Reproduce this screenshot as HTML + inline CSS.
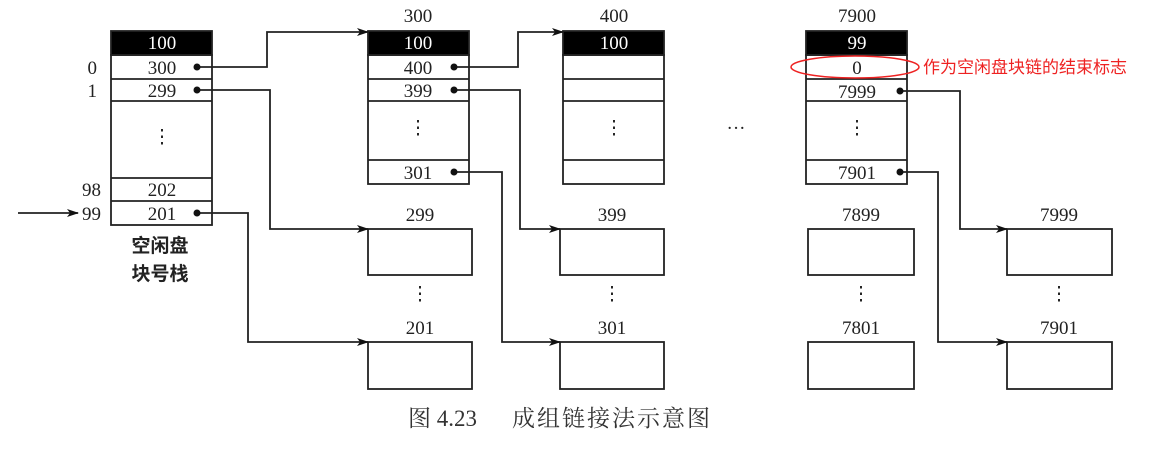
<!DOCTYPE html>
<html><head><meta charset="utf-8"><style>
html,body{margin:0;padding:0;background:#fff;}
svg{display:block;}
text{font-family:"Liberation Serif","Noto Serif CJK SC",serif;fill:#222;}
</style></head><body>
<svg width="1163" height="451" viewBox="0 0 1163 451" xmlns="http://www.w3.org/2000/svg">
<defs><marker id="a" markerWidth="12" markerHeight="8" refX="11" refY="4" orient="auto" markerUnits="userSpaceOnUse"><path d="M0,0 L12,4 L0,8 L3,4 Z" fill="#111"/></marker></defs>
<g stroke="#222" stroke-width="1.8" fill="none">
<rect x="111" y="31" width="101" height="24" fill="#000"/>
<rect x="111" y="55" width="101" height="170"/>
<line x1="111" y1="79" x2="212" y2="79"/><line x1="111" y1="101" x2="212" y2="101"/>
<line x1="111" y1="178" x2="212" y2="178"/><line x1="111" y1="201" x2="212" y2="201"/>
<rect x="368" y="31" width="101" height="24" fill="#000"/>
<rect x="368" y="55" width="101" height="129"/>
<line x1="368" y1="79" x2="469" y2="79"/><line x1="368" y1="101" x2="469" y2="101"/><line x1="368" y1="160" x2="469" y2="160"/>
<rect x="563" y="31" width="101" height="24" fill="#000"/>
<rect x="563" y="55" width="101" height="129"/>
<line x1="563" y1="79" x2="664" y2="79"/><line x1="563" y1="101" x2="664" y2="101"/><line x1="563" y1="160" x2="664" y2="160"/>
<rect x="806" y="31" width="101" height="24" fill="#000"/>
<rect x="806" y="55" width="101" height="129"/>
<line x1="806" y1="79" x2="907" y2="79"/><line x1="806" y1="101" x2="907" y2="101"/><line x1="806" y1="160" x2="907" y2="160"/>
<rect x="368" y="229" width="104" height="46"/><rect x="368" y="342" width="104" height="47"/>
<rect x="560" y="229" width="104" height="46"/><rect x="560" y="342" width="104" height="47"/>
<rect x="808" y="229" width="106" height="46"/><rect x="808" y="342" width="106" height="47"/>
<rect x="1007" y="229" width="105" height="46"/><rect x="1007" y="342" width="105" height="47"/>
<polyline points="197,67 267,67 267,32 368,32" marker-end="url(#a)"/>
<polyline points="197,90 270,90 270,229 368,229" marker-end="url(#a)"/>
<polyline points="197,213 248,213 248,342 368,342" marker-end="url(#a)"/>
<polyline points="454,67 518,67 518,32 563,32" marker-end="url(#a)"/>
<polyline points="454,90 520,90 520,229 560,229" marker-end="url(#a)"/>
<polyline points="454,172 502,172 502,342 560,342" marker-end="url(#a)"/>
<polyline points="900,91 960,91 960,229 1007,229" marker-end="url(#a)"/>
<polyline points="900,172 938,172 938,342 1007,342" marker-end="url(#a)"/>
<line x1="18" y1="213" x2="78" y2="213" marker-end="url(#a)"/>
<ellipse cx="855" cy="67" rx="64" ry="11" stroke="#e22" stroke-width="1.5"/>
</g>
<g fill="#111">
<circle cx="197" cy="67" r="3.5"/><circle cx="197" cy="90" r="3.5"/><circle cx="197" cy="213" r="3.5"/>
<circle cx="454" cy="67" r="3.5"/><circle cx="454" cy="90" r="3.5"/><circle cx="454" cy="172" r="3.5"/>
<circle cx="900" cy="91" r="3.5"/><circle cx="900" cy="172" r="3.5"/>
</g>
<g font-size="19" text-anchor="middle">
<text x="162" y="49" style="fill:#fff">100</text>
<text x="162" y="74">300</text><text x="162" y="97">299</text>
<text x="162" y="196">202</text><text x="162" y="220">201</text>
<text x="418" y="22">300</text><text x="418" y="49" style="fill:#fff">100</text>
<text x="418" y="74">400</text><text x="418" y="97">399</text><text x="418" y="179">301</text>
<text x="614" y="22">400</text><text x="614" y="49" style="fill:#fff">100</text>
<text x="857" y="22">7900</text><text x="857" y="49" style="fill:#fff">99</text>
<text x="857" y="74">0</text><text x="857" y="98">7999</text><text x="857" y="179">7901</text>
<text x="420" y="221">299</text><text x="420" y="334">201</text>
<text x="612" y="221">399</text><text x="612" y="334">301</text>
<text x="861" y="221">7899</text><text x="861" y="334">7801</text>
<text x="1059" y="221">7999</text><text x="1059" y="334">7901</text>
</g>
<g font-size="19" text-anchor="end">
<text x="97" y="74">0</text><text x="97" y="97">1</text><text x="101" y="196">98</text><text x="101" y="220">99</text>
</g>
<g font-size="19" text-anchor="middle">
<text x="162" y="143">⋮</text><text x="418" y="134">⋮</text><text x="614" y="134">⋮</text><text x="857" y="134">⋮</text>
<text x="420" y="300">⋮</text><text x="612" y="300">⋮</text><text x="861" y="300">⋮</text><text x="1059" y="300">⋮</text>
<text x="736" y="134">···</text>
</g>
<text x="160" y="252" font-size="19" font-weight="bold" text-anchor="middle" style="font-family:'Noto Sans CJK SC',sans-serif">空闲盘</text>
<text x="160" y="280" font-size="19" font-weight="bold" text-anchor="middle" style="font-family:'Noto Sans CJK SC',sans-serif">块号栈</text>
<text x="923" y="73" font-size="17" style="fill:#e22;font-family:'Noto Sans CJK SC',sans-serif">作为空闲盘块链的结束标志</text>
<text x="408" y="426" font-size="23" style="fill:#333">图 4.23</text>
<text x="512" y="426" font-size="23" letter-spacing="2" style="fill:#333">成组链接法示意图</text>
</svg>
</body></html>
